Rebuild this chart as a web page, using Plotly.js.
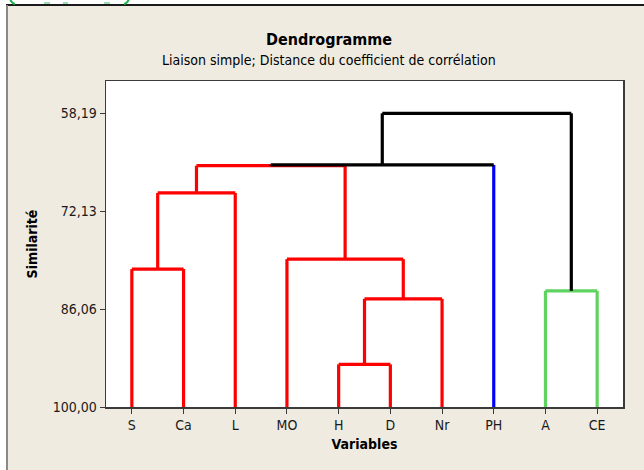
<!DOCTYPE html>
<html>
<head>
<meta charset="utf-8">
<script src="https://cdn.plot.ly/plotly-3.0.1.min.js"></script>
<style>
  html, body { margin: 0; padding: 0; background: #ffffff; }
  #wrap { position: relative; width: 644px; height: 470px; overflow: hidden; }
  #chart { position: absolute; left: 0; top: 0; width: 644px; height: 470px; }
  .ov { position: absolute; pointer-events: none; }
</style>
</head>
<body>
<div id="wrap">
  <div id="chart"></div>
  <div class="ov" style="left:0;top:0;width:644px;height:4px;background:#ffffff;"></div>
  <div class="ov" style="left:0;top:4px;width:644px;height:2px;background:#1a1a1a;"></div>
  <div class="ov" style="left:0;top:0;width:6px;height:470px;background:#ffffff;"></div>
  <div class="ov" style="left:6px;top:5px;width:2px;height:465px;background:#8a8a8a;"></div>
  <svg class="ov" style="left:0;top:0;" width="140" height="5">
    <path d="M9,-6 Q10,3 15,4" stroke="#22b14c" stroke-width="2" fill="none"/>
    <path d="M130,-6 Q129,3 124,4" stroke="#22b14c" stroke-width="2" fill="none"/>
    <path d="M44,3 L50,3 M63,3 L68,3 M104,3 L110,3" stroke="#7fd39a" stroke-width="1.5" fill="none"/>
  </svg>
</div>
<script>
// ---- data ----
const leaves = ['S', 'Ca', 'L', 'MO', 'H', 'D', 'Nr', 'PH', 'A', 'CE'];
const leafGroup = [1, 1, 1, 1, 1, 1, 1, 2, 3, 3];
// merges (node ids: 0-9 leaves, 10+ merges in order)
const mergeLeft   = [4, 10, 8, 0, 3, 13, 15, 16, 17];
const mergeRight  = [5, 6, 9, 1, 11, 2, 14, 7, 12];
const mergeHeight = [93.93, 84.60, 83.46, 80.37, 78.95, 69.52, 65.65, 65.54, 58.19];
const yTickVals = [100, 86.06, 72.13, 58.19];
const yTickText = ['100,00', '86,06', '72,13', '58,19'];

// ---- styles ----
const groupColor = {1: '#ff0000', 2: '#0000ff', 3: '#5fd35f'};
const linkColor = '#000000';
const FONT = '"DejaVu Sans Condensed", "DejaVu Sans", sans-serif';

// ---- compute layout of dendrogram ----
const nodeX = leaves.map((_, i) => i + 1);
const nodeY = leaves.map(() => 100);
const nodeGroup = leafGroup.slice();
const isLeaf = leaves.map(() => true);
const segs = {}; // color -> {x:[], y:[]}
function addSeg(color, xs, ys) {
  if (!segs[color]) segs[color] = {x: [], y: []};
  segs[color].x.push(...xs, null);
  segs[color].y.push(...ys, null);
}
for (let k = 0; k < mergeLeft.length; k++) {
  const a = mergeLeft[k], b = mergeRight[k], h = mergeHeight[k];
  const pure = nodeGroup[a] !== 0 && nodeGroup[a] === nodeGroup[b];
  const g = pure ? nodeGroup[a] : 0;
  const hc = pure ? groupColor[g] : linkColor;
  const ca = (isLeaf[a] || pure) ? groupColor[nodeGroup[a]] : linkColor;
  const cb = (isLeaf[b] || pure) ? groupColor[nodeGroup[b]] : linkColor;
  addSeg(ca, [nodeX[a], nodeX[a]], [nodeY[a], h]);
  addSeg(cb, [nodeX[b], nodeX[b]], [nodeY[b], h]);
  addSeg(hc, [nodeX[a], nodeX[b]], [h, h]);
  nodeX.push((nodeX[a] + nodeX[b]) / 2);
  nodeY.push(h);
  nodeGroup.push(g);
  isLeaf.push(false);
}
const order = ['#ff0000', '#5fd35f', '#0000ff', '#000000'];
const traces = order.filter(c => segs[c]).map(c => ({
  type: 'scatter', mode: 'lines', x: segs[c].x, y: segs[c].y,
  line: {color: c, width: 3.2, shape: 'linear'}, connectgaps: false,
  hoverinfo: 'skip', showlegend: false
}));

const layout = {
  width: 644, height: 470,
  paper_bgcolor: '#efebe1', plot_bgcolor: '#ffffff',
  margin: {l: 106, r: 21, t: 81, b: 63},
  font: {family: FONT, size: 14, color: '#1a1a1a'},
  showlegend: false,
  title: {text: '<b>Dendrogramme</b>', font: {family: FONT, size: 16, color: '#000'},
          x: 329 / 644, xanchor: 'center', y: 1 - 39 / 470, yanchor: 'middle'},
  annotations: [{
    text: 'Liaison simple; Distance du coefficient de corrélation',
    xref: 'paper', yref: 'paper', x: (329 - 106) / 517, y: (407 - 60) / 326,
    xanchor: 'center', yanchor: 'middle', showarrow: false,
    font: {family: FONT, size: 14, color: '#000'}
  }],
  xaxis: {
    range: [0.5, 10.5], tickmode: 'array', tickvals: leaves.map((_, i) => i + 1), ticktext: leaves,
    showgrid: false, zeroline: false, showline: true, mirror: true, linecolor: '#3a3a3a', linewidth: 1.5,
    ticks: 'outside', ticklen: 5, tickcolor: '#3a3a3a', tickwidth: 1,
    tickfont: {family: FONT, size: 14, color: '#1a1a1a'},
    title: {text: '<b>Variables</b>', font: {family: FONT, size: 14, color: '#000'}, standoff: 7}
  },
  yaxis: {
    range: [100, 53.59], tickmode: 'array', tickvals: yTickVals, ticktext: yTickText,
    showgrid: false, zeroline: false, showline: true, mirror: true, linecolor: '#3a3a3a', linewidth: 1.5,
    ticks: 'outside', ticklen: 5, tickcolor: '#3a3a3a', tickwidth: 1,
    tickfont: {family: FONT, size: 14, color: '#1a1a1a'},
    title: {text: '<b>Similarité</b>', font: {family: FONT, size: 14, color: '#000'}, standoff: 11}
  }
};
Plotly.newPlot('chart', traces, layout, {displayModeBar: false, staticPlot: true});
</script>
</body>
</html>
